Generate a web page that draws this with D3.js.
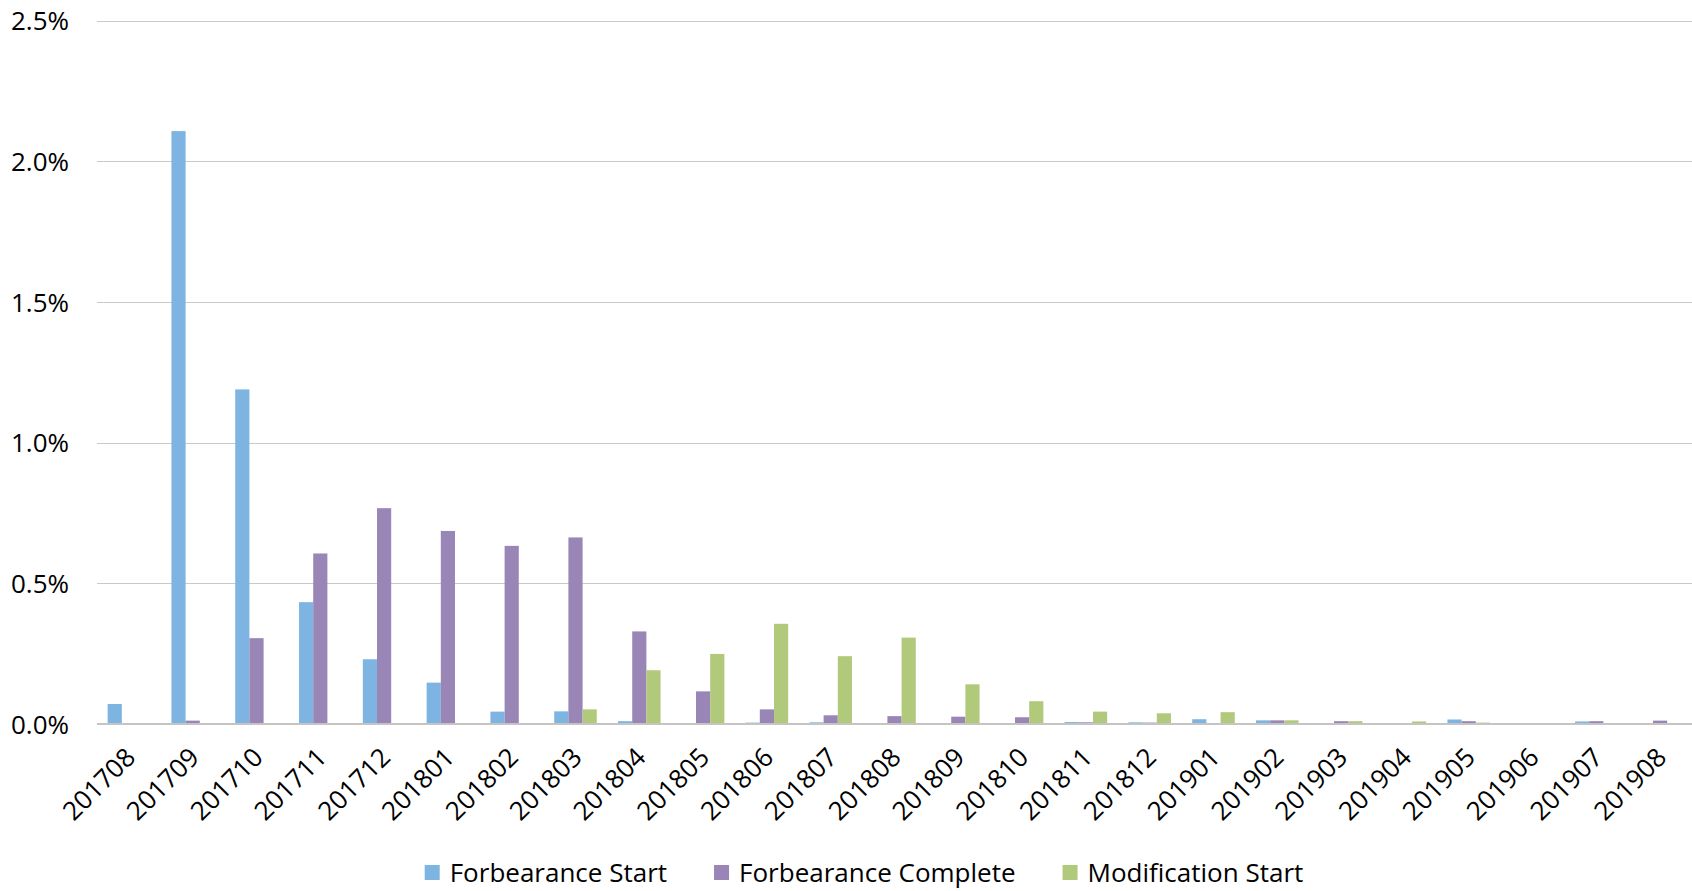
<!DOCTYPE html>
<html>
<head>
<meta charset="utf-8">
<script src="https://cdn.jsdelivr.net/npm/d3@7"></script>
<style>
  html, body { margin: 0; padding: 0; background: #fff; }
  svg { display: block; }
  text { font-family: "Open Sans", sans-serif; fill: #000; }
</style>
</head>
<body>
<svg id="chart" width="1692" height="891"></svg>
<script>
const categories = ["201708","201709","201710","201711","201712","201801","201802","201803","201804","201805","201806","201807","201808","201809","201810","201811","201812","201901","201902","201903","201904","201905","201906","201907","201908"];
const seriesNames = ["Forbearance Start", "Forbearance Complete", "Modification Start"];
const forbearanceStart = [0.071, 2.107, 1.189, 0.433, 0.230, 0.147, 0.044, 0.045, 0.010, 0.003, 0.005, 0.006, 0.003, 0.001, 0.002, 0.007, 0.006, 0.017, 0.013, 0.001, 0.001, 0.016, 0.003, 0.009, 0.003];
const forbearanceComplete = [0, 0.012, 0.305, 0.606, 0.767, 0.686, 0.633, 0.663, 0.329, 0.116, 0.052, 0.031, 0.028, 0.026, 0.024, 0.006, 0.005, 0.001, 0.013, 0.010, 0.001, 0.010, 0.002, 0.010, 0.012];
const modificationStart = [0, 0, 0, 0, 0, 0, 0.002, 0.052, 0.191, 0.249, 0.356, 0.241, 0.307, 0.141, 0.081, 0.044, 0.038, 0.042, 0.013, 0.010, 0.009, 0.005, 0.002, 0.002, 0.002];
const yTicks = [0, 0.5, 1.0, 1.5, 2.0, 2.5];
const colors = ["#7EB4E2", "#9A85B7", "#B1C97B"];

const seriesValues = [forbearanceStart, forbearanceComplete, modificationStart];
const svg = d3.select("#chart");
const m = { left: 97, right: 1692, top: 20.5, bottom: 724 };
const FS = 26;

const x0 = d3.scaleBand().domain(categories).range([m.left, m.right]).paddingInner(0).paddingOuter(0);
const x1 = d3.scaleBand().domain(seriesNames).range([0, x0.bandwidth()]).paddingInner(0).paddingOuter(0.75);
const y = d3.scaleLinear().domain([0, 2.5]).range([m.bottom, m.top]);

// gridlines
svg.append("g").selectAll("line").data(yTicks.filter(t => t > 0)).join("line")
  .attr("x1", m.left).attr("x2", m.right)
  .attr("y1", d => Math.round(y(d)) + 0.5).attr("y2", d => Math.round(y(d)) + 0.5)
  .attr("stroke", "#c9c9c9").attr("stroke-width", 1);

// y axis labels
const yAxis = d3.axisLeft(y).tickValues(yTicks).tickFormat(d => d3.format(".1f")(d) + "%").tickSize(0).tickPadding(0);
const gy = svg.append("g").attr("transform", `translate(69,0)`).call(yAxis);
gy.select(".domain").remove();
gy.selectAll("text").attr("font-size", FS).attr("font-family", "Open Sans, sans-serif").attr("fill", "#000").attr("dy", "0.36em");

// bars
const rows = categories.map((c, i) => ({ c, vals: seriesNames.map((s, k) => ({ s, k, v: seriesValues[k][i] })) }));
svg.append("g").selectAll("g").data(rows).join("g")
  .attr("transform", d => `translate(${x0(d.c)},0)`)
  .selectAll("rect").data(d => d.vals).join("rect")
  .attr("x", d => x1(d.s))
  .attr("width", x1.bandwidth())
  .attr("y", d => y(d.v))
  .attr("height", d => y(0) - y(d.v))
  .attr("fill", d => colors[d.k]);

// x axis baseline
svg.append("line").attr("x1", m.left).attr("x2", m.right)
  .attr("y1", y(0)).attr("y2", y(0)).attr("stroke", "#c4c4c4").attr("stroke-width", 2);

// x axis labels
const xAxis = d3.axisBottom(x0).tickSize(0).tickPadding(0);
const gx = svg.append("g").attr("transform", `translate(0,${m.bottom})`).call(xAxis);
gx.select(".domain").remove();
gx.selectAll("text")
  .attr("font-size", FS).attr("font-family", "Open Sans, sans-serif").attr("fill", "#000")
  .attr("text-anchor", "end")
  .attr("dy", null).attr("y", null)
  .attr("transform", "translate(8,35) rotate(-45)");

// legend
const legend = svg.append("g");
const items = legend.selectAll("g").data(seriesNames).join("g");
items.append("rect").attr("width", 15).attr("height", 15).attr("y", -8).attr("fill", (d, i) => colors[i]);
items.append("text").attr("x", 25).attr("y", 9).attr("font-size", FS).text(d => d);
const widths = [];
items.each(function () { widths.push(this.querySelector("text").getComputedTextLength()); });
const gap = 47;
const total = widths.reduce((a, w) => a + 25 + w, 0) + gap * (widths.length - 1);
let start = 864 - total / 2;
items.attr("transform", (d, i) => {
  const t = `translate(${start},873)`;
  start += 25 + widths[i] + gap;
  return t;
});
</script>
</body>
</html>
